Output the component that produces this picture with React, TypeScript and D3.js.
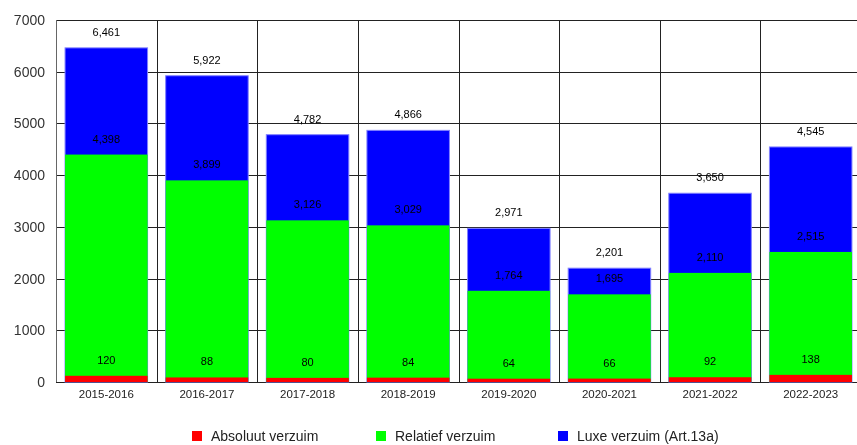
import { useEffect, useRef } from "react";
import * as d3 from "d3";

const years = [
  "2015-2016",
  "2016-2017",
  "2017-2018",
  "2018-2019",
  "2019-2020",
  "2020-2021",
  "2021-2022",
  "2022-2023",
];
const absoluut = [120, 88, 80, 84, 64, 66, 92, 138];
const relatief = [4398, 3899, 3126, 3029, 1764, 1695, 2110, 2515];
const luxe = [6461, 5922, 4782, 4866, 2971, 2201, 3650, 4545];
const yTicks = [0, 1000, 2000, 3000, 4000, 5000, 6000, 7000];

const seriesNames = ["Absoluut verzuim", "Relatief verzuim", "Luxe verzuim (Art.13a)"];
const seriesColors = ["#ff0000", "#00ff00", "#0000ff"];

export default function App() {
  const svgRef = useRef<SVGSVGElement>(null);

  useEffect(() => {
    if (!svgRef.current) return;
    const width = 857;
    const height = 445;
    const margin = { top: 20, right: -4, bottom: 63, left: 56 };

    d3.select(svgRef.current).selectAll("*").remove();
    const svg = d3
      .select(svgRef.current)
      .attr("width", width)
      .attr("height", height);

    const x = d3
      .scaleBand()
      .domain(years)
      .range([margin.left, width - margin.right])
      .paddingInner(0.18)
      .paddingOuter(0.09)
      .align(0.5);

    const y = d3
      .scaleLinear()
      .domain([0, 7000])
      .range([height - margin.bottom, margin.top]);

    // horizontal grid lines
    svg
      .append("g")
      .selectAll("line")
      .data(yTicks)
      .join("line")
      .attr("x1", margin.left)
      .attr("x2", width)
      .attr("y1", (d) => Math.round(y(d)) + 0.5)
      .attr("y2", (d) => Math.round(y(d)) + 0.5)
      .attr("stroke", "#222")
      .attr("stroke-width", 1);

    // vertical grid lines at category boundaries
    const step = x.step();
    const bandStart = (d: string) => (x(d) as number) - step * 0.09;
    svg
      .append("g")
      .selectAll("line")
      .data(years.slice(1))
      .join("line")
      .attr("x1", (d) => Math.round(bandStart(d)) + 0.5)
      .attr("x2", (d) => Math.round(bandStart(d)) + 0.5)
      .attr("y1", margin.top)
      .attr("y2", y(0))
      .attr("stroke", "#222")
      .attr("stroke-width", 1);

    // bars drawn overlapping from zero, biggest first
    const layers = [luxe, relatief, absoluut];
    const layerColors = [seriesColors[2], seriesColors[1], seriesColors[0]];
    layers.forEach((vals, li) => {
      svg
        .append("g")
        .selectAll("rect")
        .data(vals)
        .join("rect")
        .attr("x", (_, i) => x(years[i]) as number)
        .attr("width", x.bandwidth())
        .attr("y", (d) => y(d))
        .attr("height", (d) => y(0) - y(d))
        .attr("fill", layerColors[li])
        .attr("stroke", li === 0 ? "#8080ff" : "none")
        .attr("stroke-width", 1);
    });

    // value labels
    layers.forEach((vals) => {
      svg
        .append("g")
        .selectAll("text")
        .data(vals)
        .join("text")
        .attr("x", (_, i) => (x(years[i]) as number) + x.bandwidth() / 2)
        .attr("y", (d) => y(d) - 12)
        .attr("text-anchor", "middle")
        .attr("font-family", "Arial, 'Liberation Sans', sans-serif")
        .attr("font-size", 11)
        .attr("fill", "#000")
        .text((d) => d3.format(",")(d));
    });

    // y axis line
    svg
      .append("line")
      .attr("x1", margin.left + 0.5)
      .attr("x2", margin.left + 0.5)
      .attr("y1", margin.top)
      .attr("y2", y(0))
      .attr("stroke", "#666")
      .attr("stroke-width", 1);

    // y tick labels
    svg
      .append("g")
      .selectAll("text")
      .data(yTicks)
      .join("text")
      .attr("x", 45)
      .attr("y", (d) => y(d) + 5)
      .attr("text-anchor", "end")
      .attr("font-family", "Arial, 'Liberation Sans', sans-serif")
      .attr("font-size", 14)
      .attr("fill", "#333")
      .text((d) => d);

    // x category labels
    svg
      .append("g")
      .selectAll("text")
      .data(years)
      .join("text")
      .attr("x", (d) => (x(d) as number) + x.bandwidth() / 2)
      .attr("y", y(0) + 16)
      .attr("text-anchor", "middle")
      .attr("font-family", "Arial, 'Liberation Sans', sans-serif")
      .attr("font-size", 11.5)
      .attr("fill", "#222")
      .text((d) => d);

    // legend
    const legendX = [192, 376, 558];
    const legend = svg
      .append("g")
      .selectAll("g")
      .data(seriesNames)
      .join("g")
      .attr("transform", (_, i) => `translate(${legendX[i]},431)`);
    legend
      .append("rect")
      .attr("width", 10)
      .attr("height", 10)
      .attr("fill", (_, i) => seriesColors[i]);
    legend
      .append("text")
      .attr("x", 19)
      .attr("y", 10)
      .attr("font-family", "Arial, 'Liberation Sans', sans-serif")
      .attr("font-size", 14)
      .attr("fill", "#222")
      .text((d) => d);
  }, []);

  return (
    <svg
      ref={svgRef}
      style={{ position: "fixed", left: 0, top: 0, display: "block" }}
    ></svg>
  );
}
